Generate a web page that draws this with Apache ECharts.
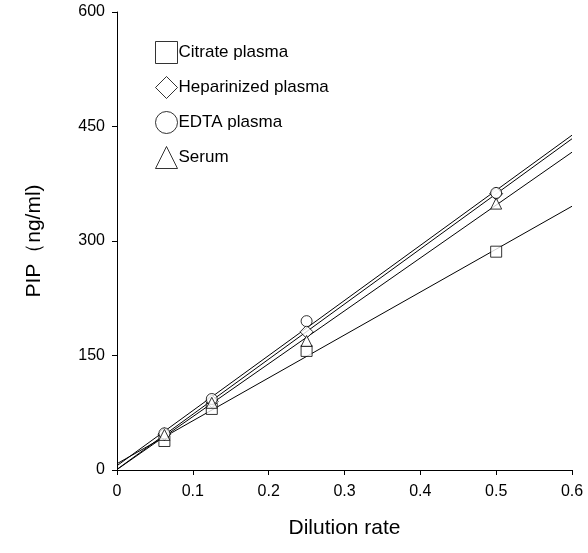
<!DOCTYPE html>
<html style="height: 100%">
<head>
<meta charset="utf-8">
</head>
<body style="height: 100%; margin: 0">
<div id="container" style="width: 588px; height: 553px"></div>
<script src="https://cdn.jsdelivr.net/npm/echarts/dist/echarts.min.js"></script>
<script type="text/javascript">
var dilution = [0.0625, 0.125, 0.25, 0.5];
var names = ['Citrate plasma', 'Heparinized plasma', 'EDTA plasma', 'Serum'];
var symbols = ['rect', 'diamond', 'circle', 'triangle'];
var citrate = [38, 80, 156, 286];
var heparin = [47, 90, 181, 362];
var edta = [48, 93, 195, 363];
var serum = [46, 88, 169, 349];
var yTicks = [0, 150, 300, 450, 600];

var groups = [citrate, heparin, edta, serum];

// least squares fit line, drawn from 0 to 0.6
function fit(ys) {
	var n = dilution.length, sx = 0, sy = 0, sxx = 0, sxy = 0;
	for (var i = 0; i < n; i++) {
		sx += dilution[i]; sy += ys[i];
		sxx += dilution[i] * dilution[i]; sxy += dilution[i] * ys[i];
	}
	var b = (n * sxy - sx * sy) / (n * sxx - sx * sx);
	var a = (sy - b * sx) / n;
	return [[0, a], [0.6, a + b * 0.6]];
}

var series = [];
groups.forEach(function (ys, k) {
	series.push({
		name: names[k],
		type: 'scatter',
		symbol: symbols[k],
		symbolSize: k === 1 ? 13 : 11,
		itemStyle: { color: '#fff', borderColor: '#000', borderWidth: 1 },
		data: dilution.map(function (x, i) { return [x, ys[i]]; }),
		z: 3
	});
	series.push({
		type: 'line',
		silent: true,
		symbol: 'none',
		lineStyle: { color: '#000', width: 1 },
		data: fit(ys),
		z: 2
	});
});

var myChart = echarts.init(document.getElementById('container'));
myChart.setOption({
	animation: false,
	grid: { left: 117, right: 16, top: 12, bottom: 83 },
	legend: {
		data: names.map(function (n, k) {
			return { name: n, icon: symbols[k] };
		}),
		orient: 'vertical',
		left: 150,
		top: 36,
		itemWidth: 22,
		itemHeight: 22,
		itemGap: 12,
		itemStyle: { color: '#fff', borderColor: '#000', borderWidth: 1 },
		textStyle: { fontFamily: 'Liberation Sans', fontSize: 17, color: '#000', padding: [0, 0, 0, -4] },
		selectedMode: false
	},
	xAxis: {
		type: 'value', min: 0, max: 0.6, interval: 0.1,
		name: 'Dilution rate', nameLocation: 'middle', nameGap: 48,
		nameTextStyle: { fontFamily: 'Liberation Sans', fontSize: 21, color: '#000' },
		axisLine: { lineStyle: { color: '#000' } },
		axisTick: { show: true, length: 5, lineStyle: { color: '#000' } },
		axisLabel: { fontFamily: 'Liberation Sans', fontSize: 16, color: '#000', margin: 14 },
		splitLine: { show: false }
	},
	yAxis: {
		type: 'value', min: 0, max: 600, interval: 150,
		name: 'PIP（ng/ml)', nameLocation: 'middle', nameGap: 72,
		nameTextStyle: { fontFamily: 'Liberation Sans', fontSize: 21, color: '#000' },
		axisLine: { lineStyle: { color: '#000' } },
		axisTick: { show: true, length: 5, lineStyle: { color: '#000' } },
		axisLabel: { fontFamily: 'Liberation Sans', fontSize: 16, color: '#000', margin: 12,
			formatter: function (v) { return yTicks.indexOf(v) >= 0 ? String(v) : ''; } },
		splitLine: { show: false }
	},
	series: series
});
</script>
</body>
</html>
